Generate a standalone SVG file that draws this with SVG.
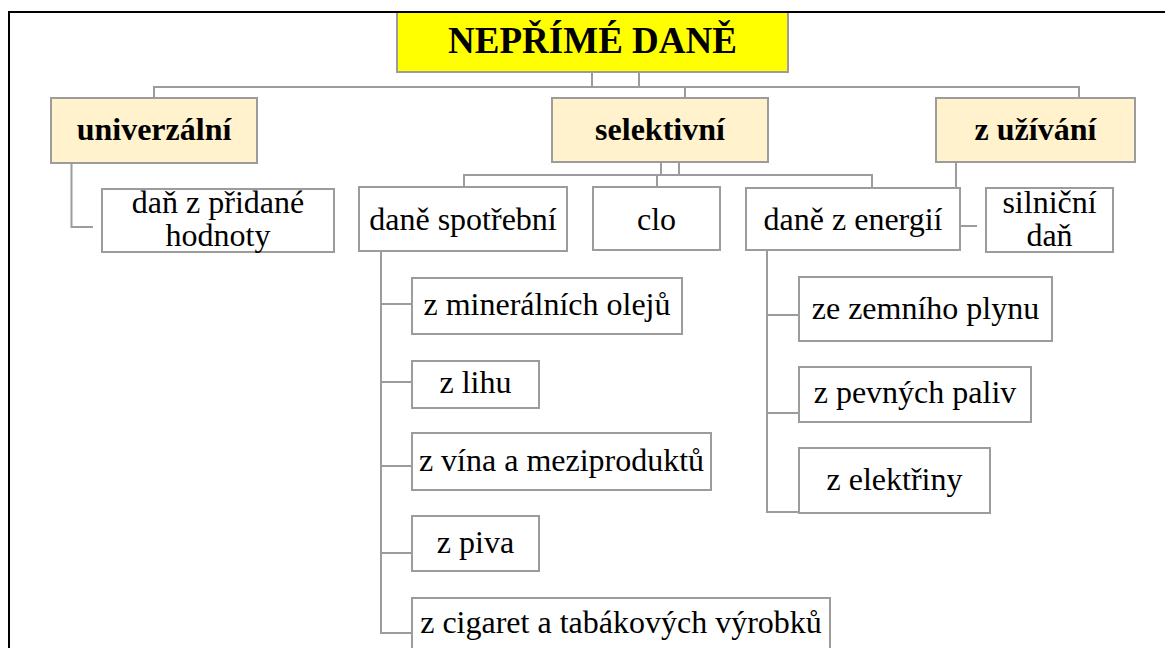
<svg xmlns="http://www.w3.org/2000/svg" width="1165" height="648" viewBox="0 0 1165 648">
  <style>
    .box { fill: #FFFFFF; stroke: #9C9C9C; stroke-width: 2; }
    .lvl { fill: #FFF2CC; stroke: #9C9C9C; stroke-width: 2; }
    .root { fill: #FFFF00; stroke: #9C9C9C; stroke-width: 2; }
    .con { fill: none; stroke: #9C9C9C; stroke-width: 2; }
  </style>
  <rect width="1165" height="648" fill="#FFFFFF"/>
  <g id="connectors" class="con">
    <path d="M592 72 V87 M639 72 V87"/>
    <path d="M154 98 V87 H1079 V98"/>
    <path d="M685 87 V98"/>
    <path d="M71.5 163 V227 H93"/>
    <path d="M956 162 V226 H977"/>
    <path d="M661 162 V175 M679 162 V175"/>
    <path d="M464 187 V175 H872 V188"/>
    <path d="M657 175 V187"/>
    <path d="M381 251 V633 H412 M381 304 H412 M381 382 H412 M381 466 H412 M381 553 H412"/>
    <path d="M767 250 V512 H799 M767 315 H799 M767 413 H799"/>
  </g>
  <g id="nodes" font-family="Liberation Serif" font-size="32" text-anchor="middle" fill="#000000">
    <g id="root">
      <rect class="root" x="397" y="12" width="391" height="60"/>
      <text x="592.5" y="53" font-size="37" font-weight="bold">NEPŘÍMÉ DANĚ</text>
    </g>
    <g id="univerzalni">
      <rect class="lvl" x="51" y="98" width="206" height="65"/>
      <text x="154" y="140" font-weight="bold">univerzální</text>
    </g>
    <g id="selektivni">
      <rect class="lvl" x="552" y="98" width="216" height="64"/>
      <text x="660" y="139.5" font-weight="bold">selektivní</text>
    </g>
    <g id="z-uzivani">
      <rect class="lvl" x="936" y="98" width="199" height="64"/>
      <text x="1035.5" y="139.5" font-weight="bold">z užívání</text>
    </g>
    <g id="dph">
      <rect class="box" x="102" y="189" width="232" height="63"/>
      <text x="218" y="213">daň z přidané</text>
      <text x="218" y="246">hodnoty</text>
    </g>
    <g id="dane-spotrebni">
      <rect class="box" x="359" y="187" width="208" height="64"/>
      <text x="463" y="230">daně spotřební</text>
    </g>
    <g id="clo">
      <rect class="box" x="593" y="187" width="127" height="63"/>
      <text x="656.5" y="230">clo</text>
    </g>
    <g id="dane-z-energii">
      <rect class="box" x="746" y="188" width="214" height="62"/>
      <text x="853" y="230">daně z energií</text>
    </g>
    <g id="silnicni-dan">
      <rect class="box" x="986" y="188" width="127" height="64"/>
      <text x="1049.5" y="213">silniční</text>
      <text x="1049.5" y="246">daň</text>
    </g>
    <g id="mineralni-oleje">
      <rect class="box" x="412" y="278" width="270" height="56"/>
      <text x="547" y="315">z minerálních olejů</text>
    </g>
    <g id="lih">
      <rect class="box" x="412" y="361" width="127" height="47"/>
      <text x="475.5" y="393">z lihu</text>
    </g>
    <g id="vino">
      <rect class="box" x="412" y="433" width="299" height="57"/>
      <text x="561.5" y="471">z vína a meziproduktů</text>
    </g>
    <g id="pivo">
      <rect class="box" x="412" y="516" width="127" height="55"/>
      <text x="475.5" y="553">z piva</text>
    </g>
    <g id="cigarety">
      <rect class="box" x="412" y="598" width="418" height="70"/>
      <text x="621" y="633">z cigaret a tabákových výrobků</text>
    </g>
    <g id="zemni-plyn">
      <rect class="box" x="799" y="277" width="253" height="64"/>
      <text x="925.5" y="319">ze zemního plynu</text>
    </g>
    <g id="pevna-paliva">
      <rect class="box" x="799" y="367" width="232" height="55"/>
      <text x="915" y="403">z pevných paliv</text>
    </g>
    <g id="elektrina">
      <rect class="box" x="799" y="448" width="191" height="65"/>
      <text x="894.5" y="490">z elektřiny</text>
    </g>
  </g>
  <path id="frame" d="M9 648 V12 H1165" fill="none" stroke="#000000" stroke-width="2"/>
</svg>
